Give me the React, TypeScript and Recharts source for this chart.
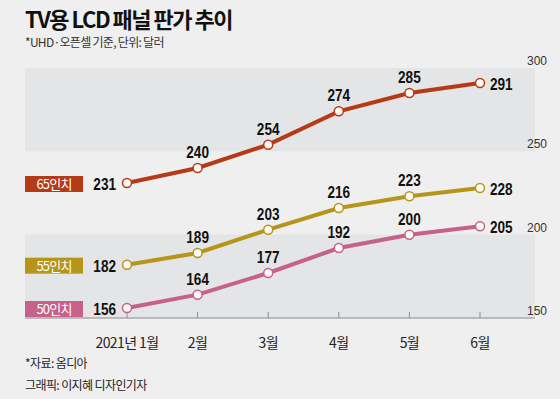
import { LineChart, Line, XAxis, YAxis, ReferenceArea } from 'recharts';

const months = ['2021년 1월', '2월', '3월', '4월', '5월', '6월'];
const inch65 = [231, 240, 254, 274, 285, 291];
const inch55 = [182, 189, 203, 216, 223, 228];
const inch50 = [156, 164, 177, 192, 200, 205];
const yTicks = [150, 200, 250, 300];
const bands = [
  [250, 300],
  [150, 200],
];

const seriesList = [
  { key: 'v65', name: '65인치', color: '#b53a17' },
  { key: 'v55', name: '55인치', color: '#b5961b' },
  { key: 'v50', name: '50인치', color: '#c6618a' },
];

const data = months.map((m, i) => ({
  month: m,
  v65: inch65[i],
  v55: inch55[i],
  v50: inch50[i],
}));

const W = 560;
const H = 399;
const MARGIN = { top: 68, right: 0, bottom: 51, left: 25 };
const Y_AXIS_W = 25;
const PLOT_LEFT = MARGIN.left;
const PLOT_WIDTH = W - MARGIN.left - MARGIN.right - Y_AXIS_W;

const KR = "'Noto Sans CJK KR', 'Noto Sans', sans-serif";
const NUM = "'Liberation Sans', Arial, sans-serif";
const last = months.length - 1;

// condensed bold number, anchored at (x, y)
const Num = ({ x, y, anchor, children }: any) => (
  <text
    transform={`translate(${x},${y}) scale(0.8,1)`}
    textAnchor={anchor}
    fontSize={17}
    fontWeight="bold"
    fontFamily={NUM}
    fill="#111"
  >
    {children}
  </text>
);

const makeLabel = (name: string, color: string) => (props: any) => {
  const { x, y, value, index } = props;
  if (index === 0) {
    return (
      <g>
        <rect x={x - 102} y={y - 7} width={58} height={16} fill={color} />
        <text x={x - 73} y={y + 6} textAnchor="middle" fill="#fff" fontSize={13} fontFamily={KR} letterSpacing={-0.8}>
          {name}
        </text>
        <Num x={x - 11} y={y + 7} anchor="end">{value}</Num>
      </g>
    );
  }
  if (index === last) {
    return <Num x={x + 10} y={y + 7} anchor="start">{value}</Num>;
  }
  return <Num x={x} y={y - 10} anchor="middle">{value}</Num>;
};

// band spans the whole plot width; y and height come from the y scale
const BandShape = (props: any) => (
  <rect x={PLOT_LEFT} y={props.y} width={PLOT_WIDTH} height={props.height} fill="#e4e5e7" />
);

const MonthTick = ({ x, y, payload }: any) => (
  <text x={x} y={y} dy={8} textAnchor="middle" fontSize={14} fontFamily={KR} fill="#222" letterSpacing={-0.6}>
    {payload.value}
  </text>
);

const ValueTick = ({ x, y, payload }: any) => (
  <text x={x - 8} y={y - 3} textAnchor="start" fontSize={12} fontFamily={NUM} fill="#333">
    {payload.value}
  </text>
);

export default function App() {
  return (
    <div
      style={{
        position: 'relative',
        width: W,
        height: H,
        background: '#efefef',
        overflow: 'hidden',
        fontFamily: KR,
      }}
    >
      <style>{`body{margin:0}`}</style>
      <div
        style={{
          position: 'absolute',
          left: 25,
          top: 7,
          fontSize: 22,
          lineHeight: '22px',
          fontWeight: 700,
          color: '#111',
          letterSpacing: -1.5,
          whiteSpace: 'nowrap',
        }}
      >
        TV용 LCD 패널 판가 추이
      </div>
      <div
        style={{
          position: 'absolute',
          left: 25,
          top: 35,
          fontSize: 12,
          lineHeight: '14px',
          color: '#333',
          letterSpacing: -0.7,
          whiteSpace: 'nowrap',
        }}
      >
        *UHD·오픈셀 기준, 단위: 달러
      </div>

      <div style={{ position: 'absolute', left: 0, top: 0 }}>
        <LineChart width={W} height={H} data={data} margin={MARGIN}>
          {bands.map(([lo, hi]) => (
            <ReferenceArea key={lo} y1={lo} y2={hi} ifOverflow="visible" shape={<BandShape />} />
          ))}
          <XAxis
            dataKey="month"
            height={30}
            padding={{ left: 102, right: 55 }}
            axisLine={{ stroke: '#8a8a8a', strokeWidth: 1 }}
            tickLine={{ stroke: '#8a8a8a' }}
            tickSize={-6}
            tickMargin={28}
            tick={<MonthTick />}
            interval={0}
          />
          <YAxis
            orientation="right"
            width={Y_AXIS_W}
            domain={[150, 300]}
            ticks={yTicks}
            axisLine={false}
            tickLine={false}
            tickSize={0}
            tickMargin={0}
            tick={<ValueTick />}
          />
          {seriesList.map((s) => (
            <Line
              key={s.key}
              type="linear"
              dataKey={s.key}
              stroke={s.color}
              strokeWidth={4}
              dot={{ r: 4.5, fill: '#fffaf5', stroke: s.color, strokeWidth: 1.5 }}
              activeDot={false}
              isAnimationActive={false}
              label={makeLabel(s.name, s.color)}
            />
          ))}
        </LineChart>
      </div>

      <div style={{ position: 'absolute', left: 25, top: 355, fontSize: 12, lineHeight: '16px', color: '#222', letterSpacing: -0.6 }}>
        *자료: 옴디아
      </div>
      <div style={{ position: 'absolute', left: 25, top: 377, fontSize: 12, lineHeight: '16px', color: '#222', letterSpacing: -0.6 }}>
        그래픽: 이지혜 디자인기자
      </div>
    </div>
  );
}
